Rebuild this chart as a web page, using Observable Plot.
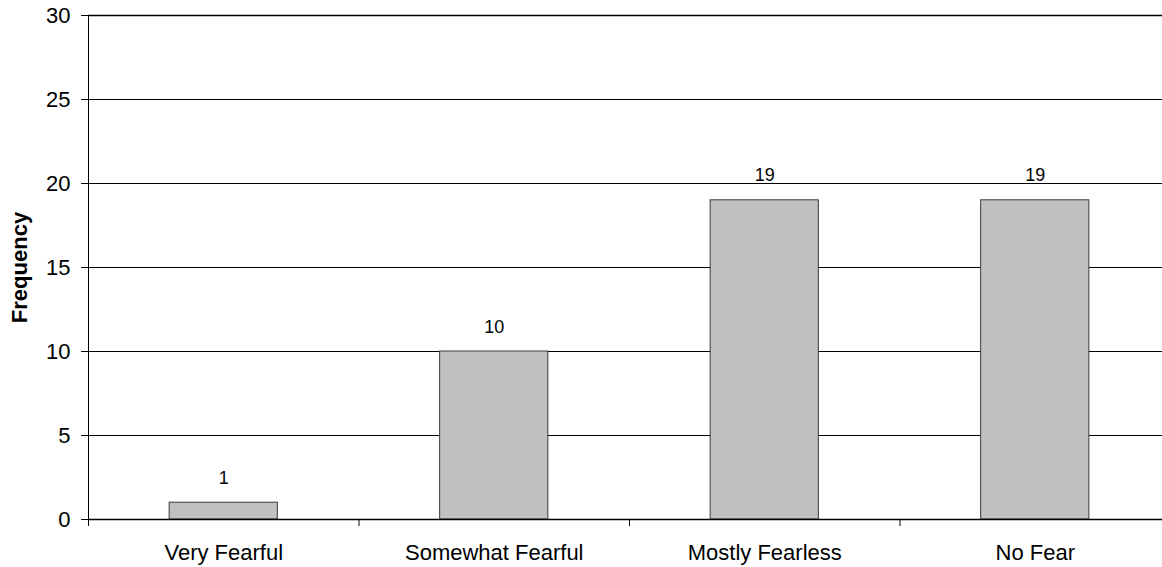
<!DOCTYPE html>
<html>
<head>
<meta charset="utf-8">
<script src="https://cdn.jsdelivr.net/npm/d3@7"></script>
<script src="https://cdn.jsdelivr.net/npm/@observablehq/plot@0.6"></script>
<style>
  html, body { margin: 0; padding: 0; background: #fff; overflow: hidden; }
  #chart svg { display: block; }
</style>
</head>
<body>
<div id="chart"></div>
<script>
const categories = ["Very Fearful", "Somewhat Fearful", "Mostly Fearless", "No Fear"];
const frequencies = [1, 10, 19, 19];
const yTicks = [0, 5, 10, 15, 20, 25, 30];
const axisTitle = "Frequency";

const data = categories.map((c, i) => ({category: c, value: frequencies[i]}));
const font = "'Liberation Sans', Arial, Helvetica, sans-serif";
const step = (1170 - 88) / categories.length;

const chart = Plot.plot({
  width: 1162,
  height: 567,
  marginTop: 15,
  marginBottom: 48,
  marginLeft: 88,
  marginRight: 0,
  style: {fontFamily: font, background: "#fff", color: "#000"},
  x: {type: "band", domain: categories, range: [88, 1170], paddingInner: 0.6, paddingOuter: 0.3, round: false},
  y: {domain: [0, 30]},
  marks: [
    Plot.ruleY(yTicks.filter(t => t > 0 && t < 30), {stroke: "#000", strokeWidth: 1}),
    Plot.ruleY([30], {stroke: "#000", strokeWidth: 1.6}),
    Plot.barY(data, {x: "category", y: "value", fill: "#c0c0c0", stroke: "#3a3a3a", strokeWidth: 1}),
    Plot.ruleY([0], {stroke: "#000", strokeWidth: 1.3}),
    Plot.frame({anchor: "left", stroke: "#000", strokeWidth: 1}),
    Plot.ruleX(categories, {x: d => d, dx: -step / 2, y1: 0, y2: 0, stroke: "#000", strokeWidth: 1, insetBottom: -7}),
    Plot.text(data, {x: "category", y: "value", text: d => String(d.value), lineAnchor: "bottom", dy: -19, fontSize: 18, fill: "#000"}),
    Plot.axisY({ticks: yTicks, tickSize: 7, tickPadding: 11, fontSize: 22, label: null, stroke: "#000", fill: "#000"}),
    Plot.axisX({tickSize: 0, tickPadding: 25, fontSize: 22, label: null, fill: "#000"}),
    Plot.text([axisTitle], {frameAnchor: "left", textAnchor: "middle", lineAnchor: "middle", dx: -69, rotate: -90, fontSize: 22, fontWeight: "bold", fill: "#000"})
  ]
});
document.getElementById("chart").appendChild(chart);
</script>
</body>
</html>
